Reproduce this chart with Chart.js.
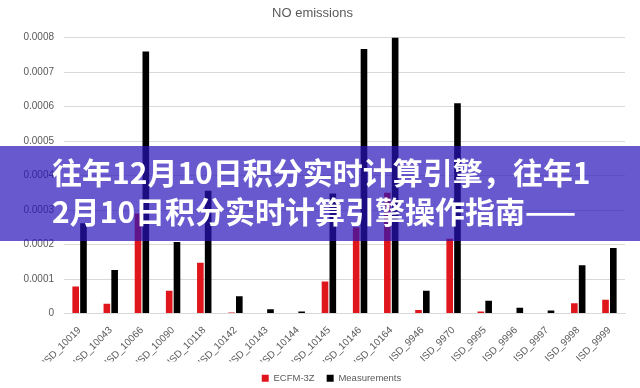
<!DOCTYPE html>
<html>
<head>
<meta charset="utf-8">
<script src="https://cdn.jsdelivr.net/npm/chart.js@4.4.1/dist/chart.umd.min.js"></script>
<style>
  html, body { margin: 0; padding: 0; background: #fff; }
  #wrap { position: relative; width: 640px; height: 388px; overflow: hidden; }
  #banner {
    position: absolute; left: 0; top: 146px; width: 640px; height: 95px;
    box-sizing: border-box; padding: 6px 0 0 52px;
    background: rgba(40, 20, 185, 0.7);
    color: #fff; font-family: "Noto Sans CJK SC"; font-weight: 700;
    font-size: 30px; line-height: 39px; white-space: nowrap;
  }
</style>
</head>
<body>
<div id="wrap">
  <canvas id="chart" width="640" height="388"></canvas>
  <div id="banner">往年12月10日积分实时计算引擎，往年1<br>2月10日积分实时计算引擎操作指南——</div>
</div>
<script>
// Stations on the x axis
const stations = ['ISD_10019', 'ISD_10043', 'ISD_10066', 'ISD_10090', 'ISD_10118', 'ISD_10142',
    'ISD_10143', 'ISD_10144', 'ISD_10145', 'ISD_10146', 'ISD_10164', 'ISD_9946',
    'ISD_9970', 'ISD_9995', 'ISD_9996', 'ISD_9997', 'ISD_9998', 'ISD_9999'];

// Series values
const ecfm3z = [0.000078, 0.000028, 0.00029, 0.000066, 0.000147, 0.000003,
    0, 0, 0.000093, 0.00025, 0.00035, 0.00001,
    0.000217, 0.000006, 0, 0, 0.00003, 0.00004];
const measurements = [0.000262, 0.000126, 0.00076, 0.000207, 0.000356, 0.00005,
    0.000012, 0.000006, 0.000348, 0.000767, 0.0008, 0.000066,
    0.00061, 0.000037, 0.000017, 0.000009, 0.00014, 0.00019];

// Y axis
const yMin = 0;
const yMax = 0.0008;
const yStep = 0.0001;

const textColor = '#595959';
const gridColor = '#d9d9d9';

Chart.defaults.font.family = '"Liberation Sans", Arial, sans-serif';
Chart.defaults.color = textColor;

// The legend in the original sits a little right of centre
const legendShift = {
    id: 'legendShift',
    afterLayout(chart) {
        if (chart.legend) {
            chart.legend.left += 19;
            chart.legend.right += 19;
        }
    }
};

new Chart(document.getElementById('chart'), {
    type: 'bar',
    data: {
        labels: stations,
        datasets: [
            {
                label: 'ECFM-3Z',
                data: ecfm3z,
                backgroundColor: '#e0161d',
                borderWidth: 0,
                categoryPercentage: 0.5,
                barPercentage: 0.85
            },
            {
                label: 'Measurements',
                data: measurements,
                backgroundColor: '#000000',
                borderWidth: 0,
                categoryPercentage: 0.5,
                barPercentage: 0.85
            }
        ]
    },
    options: {
        responsive: false,
        animation: false,
        layout: {
            padding: { left: 0, right: 15, top: 0, bottom: -5 }
        },
        plugins: {
            title: {
                display: true,
                text: 'NO emissions',
                color: textColor,
                font: { size: 13, weight: 'normal' },
                padding: { top: 6, bottom: 16 }
            },
            legend: {
                position: 'bottom',
                labels: {
                    boxWidth: 7,
                    boxHeight: 7,
                    padding: 12,
                    color: textColor,
                    font: { size: 9.5 }
                }
            },
            tooltip: { enabled: false }
        },
        scales: {
            x: {
                grid: { display: false },
                border: { color: gridColor },
                ticks: {
                    autoSkip: false,
                    minRotation: 45,
                    maxRotation: 45,
                    color: textColor,
                    font: { size: 10 }
                },
                afterFit: (scale) => { scale.height = 48; }
            },
            y: {
                min: yMin,
                max: yMax,
                grid: { color: gridColor, drawTicks: false },
                border: { display: false },
                ticks: {
                    stepSize: yStep,
                    padding: 10,
                    color: textColor,
                    font: { size: 10 },
                    callback: (v) => v === 0 ? '0' : Number(v).toFixed(4)
                },
                afterFit: (scale) => { scale.width = 64; }
            }
        }
    },
    plugins: [legendShift]
});
</script>
</body>
</html>
